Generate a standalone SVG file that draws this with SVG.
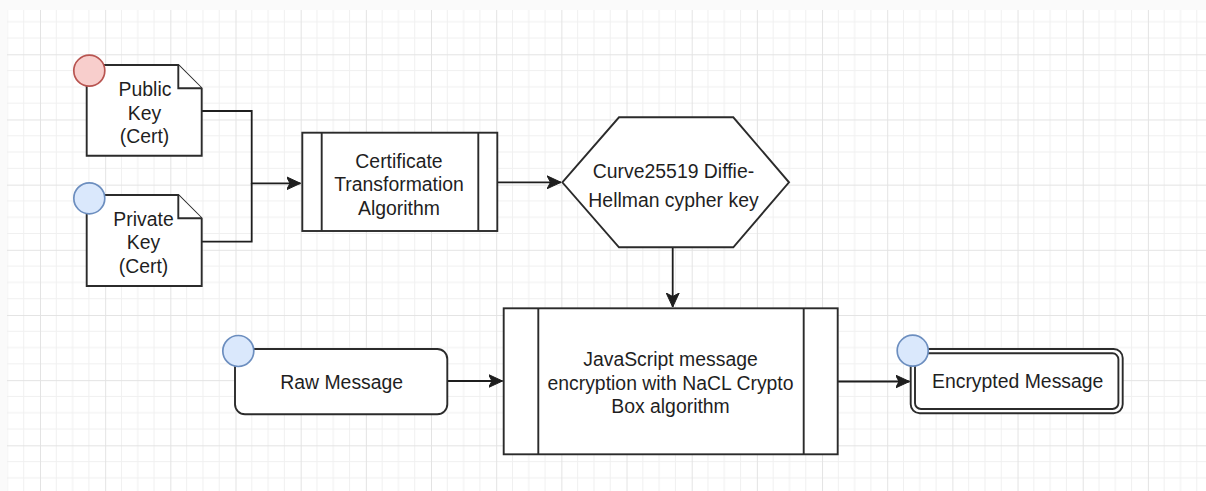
<svg xmlns="http://www.w3.org/2000/svg" width="1206" height="491" viewBox="0 0 1206 491">
<style>
.shape{fill:#ffffff;stroke:#2b2b2b;stroke-width:1.9}
.line{fill:none;stroke:#1e1e1e;stroke-width:1.8}
.red{fill:#f8cecc;stroke:#b85450;stroke-width:1.7}
.blue{fill:#dae8fc;stroke:#6c8ebf;stroke-width:1.7}
text{font-family:"Liberation Sans",Arial,Helvetica,sans-serif;font-size:19.4px;fill:#1f1f1f;text-anchor:middle}
.minor{stroke:#f0f0f0;stroke-width:1}
.major{stroke:#e3e3e3;stroke-width:1}
</style>
<defs>
<pattern id="grid" x="40" y="54.3" width="65.17" height="65.17" patternUnits="userSpaceOnUse">
<path class="minor" d="M16.29,0V65.17M32.58,0V65.17M48.88,0V65.17M0,16.29H65.17M0,32.58H65.17M0,48.88H65.17"/>
<path class="major" d="M0.5,0V65.17M0,0.5H65.17"/>
</pattern>
<marker id="arrow" markerUnits="userSpaceOnUse" markerWidth="16" markerHeight="14" refX="14" refY="7" orient="auto" viewBox="0 0 16 14">
<path d="M0,0.5 L14,7 L0,13.5 L3.5,7 Z" fill="#1e1e1e" stroke="#1e1e1e" stroke-width="1"/>
</marker>
</defs>
<rect width="1206" height="491" fill="#fafafa"/>
<rect x="7" y="10" width="1199" height="481" fill="#ffffff"/>
<rect x="7" y="10" width="1199" height="481" fill="url(#grid)"/>

<g id="connectors">
<path class="line" d="M201.7,111 H251.7 V183.3 H300.5" marker-end="url(#arrow)"/>
<path class="line" d="M201.7,241.7 H251.7 V183.3"/>
<path class="line" d="M497.3,182.3 H561" marker-end="url(#arrow)"/>
<path class="line" d="M672.7,247.3 V307" marker-end="url(#arrow)"/>
<path class="line" d="M447.3,381 H502.5" marker-end="url(#arrow)"/>
<path class="line" d="M837.7,381.5 H909.5" marker-end="url(#arrow)"/>
</g>

<g id="public-key">
<path class="shape" d="M86.7,65 H178.3 L201.7,88.3 V155.7 H86.7 Z"/>
<path class="shape" fill="none" d="M178.3,65 V88.3 H201.7"/>
<circle class="red" cx="89.3" cy="70.7" r="15.5"/>
<text x="145" y="96">Public</text>
<text x="144.5" y="119.5">Key</text>
<text x="144.5" y="143">(Cert)</text>
</g>

<g id="private-key">
<path class="shape" d="M86.7,195 H178.3 L201.7,218.3 V286 H86.7 Z"/>
<path class="shape" fill="none" d="M178.3,195 V218.3 H201.7"/>
<circle class="blue" cx="89.3" cy="198.3" r="15.5"/>
<text x="143.5" y="225.5">Private</text>
<text x="143.5" y="249">Key</text>
<text x="143.5" y="272.5">(Cert)</text>
</g>

<g id="cert-transform">
<rect class="shape" x="302.3" y="132.7" width="195" height="98.3"/>
<path class="shape" d="M321.7,132.7 V231 M478.3,132.7 V231"/>
<text x="399" y="167.5">Certificate</text>
<text x="399" y="191">Transformation</text>
<text x="399" y="214.5">Algorithm</text>
</g>

<g id="dh-key">
<polygon class="shape" points="562.3,182.3 619,117.3 733.3,117.3 789,182.3 733.3,247.3 619,247.3"/>
<text x="673.5" y="178.3">Curve25519 Diffie-</text>
<text x="673.5" y="207.3">Hellman cypher key</text>
</g>

<g id="nacl-box">
<rect class="shape" x="503.7" y="308.3" width="334" height="146"/>
<path class="shape" d="M538.3,308.3 V454.3 M803.7,308.3 V454.3"/>
<text x="670.5" y="366">JavaScript message</text>
<text x="670.5" y="389.5">encryption with NaCL Crypto</text>
<text x="670.5" y="413">Box algorithm</text>
</g>

<g id="raw-message">
<rect class="shape" x="235" y="349" width="212.3" height="65.3" rx="10" ry="10"/>
<circle class="blue" cx="238.3" cy="351" r="15.5"/>
<text x="341.7" y="389.3">Raw Message</text>
</g>

<g id="encrypted-message">
<rect class="shape" x="910.7" y="349" width="212" height="64.3" rx="9" ry="9"/>
<rect class="shape" x="915" y="353.3" width="203.4" height="55.7" rx="6" ry="6"/>
<circle class="blue" cx="912.7" cy="350.7" r="15.5"/>
<text x="1017.7" y="388.3">Encrypted Message</text>
</g>
</svg>
